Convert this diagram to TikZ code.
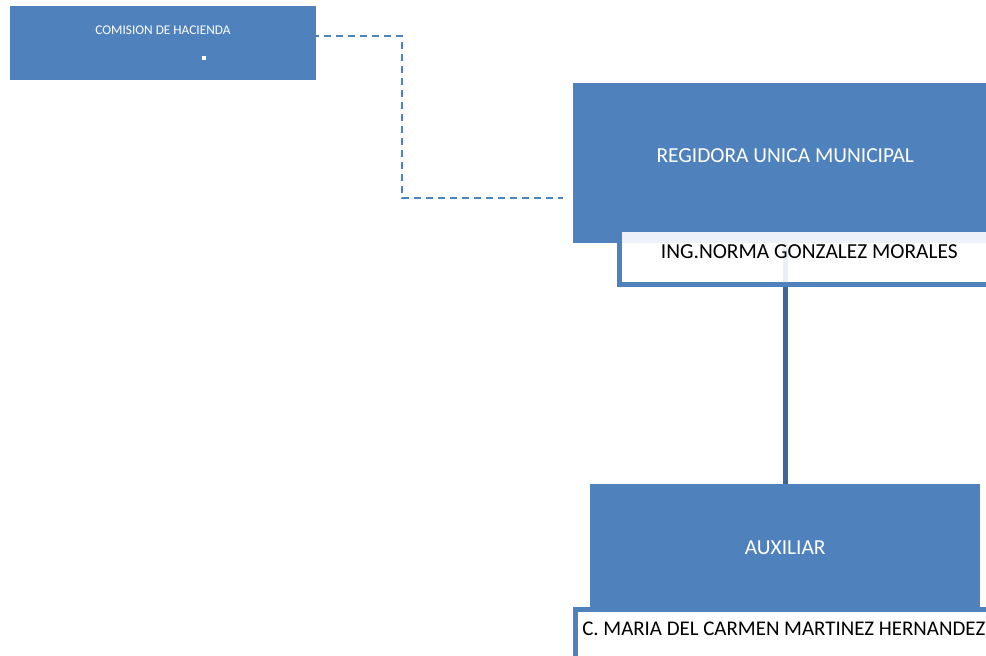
\documentclass[tikz,border=0pt]{standalone}
\usepackage{fontspec}
\setmainfont{Carlito}
\definecolor{azulcargo}{HTML}{4F81BD}
\definecolor{azullinea}{HTML}{3D6596}

\begin{document}
\begin{tikzpicture}[x=1pt, y=-1pt,
    cargo/.style={fill=azulcargo, text=white, inner sep=0pt, anchor=north west, font=\fontsize{21.4}{25}\selectfont},
    nombre/.style={draw=azulcargo, line width=4.5pt, fill=white, fill opacity=.9, text opacity=1, inner sep=0pt, anchor=north west, font=\fontsize{21.4}{25}\selectfont},
    conector/.style={azullinea, line width=5pt},
    punteado/.style={azulcargo, line width=2pt, dash pattern=on 7pt off 5pt}]
        \useasboundingbox (0,0) rectangle (986,656);
        \clip (0,0) rectangle (986,656);
        % comision
        \node[cargo, minimum width=306, minimum height=74] (comision) at (10,6) {};
        \node[text=white, font=\fontsize{13.3}{15}\selectfont] (comtxt) at (163,30) {COMISION DE HACIENDA};
        \node[fill=white, inner sep=0pt, minimum size=4] (punto) at (204,58) {};
        % cargos
        \node[cargo, minimum width=424, minimum height=160, text depth=15pt] (regidora) at (573,83) {REGIDORA UNICA MUNICIPAL};
        \node[cargo, minimum width=390, minimum height=127] (auxiliar) at (590,484) {AUXILIAR};
        % lineas
        \coordinate (dstart) at (240,36);
        \coordinate (dturn) at (402,36);
        \coordinate (regin) at (563,198);
        \draw[punteado] (dstart) -- (dturn) |- (regin);
        \draw[conector] (regidora.south) -- (auxiliar.north);
        % nombres
        \node[nombre, minimum width=380, minimum height=55, text depth=10pt] (norma) at (617,227) {ING.NORMA GONZALEZ MORALES};
        \node[nombre, inner xsep=7pt, minimum height=56, text depth=17pt, font=\fontsize{20.9}{25}\selectfont] (maria) at (573,607) {C. MARIA DEL CARMEN MARTINEZ HERNANDEZ};
\end{tikzpicture}
\end{document}
